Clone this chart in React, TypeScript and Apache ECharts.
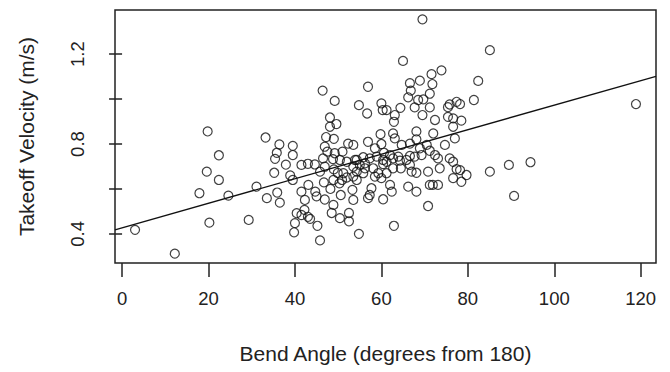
import React, { useEffect, useRef } from "react";
import * as echarts from "echarts";

// Bend angle (degrees from 180) for each observation
const bendAngle: number[] = [
  3.0, 12.2, 19.8, 22.4, 19.6, 22.4, 17.9, 24.6, 20.2, 29.3,
  31.1, 33.2, 33.5, 35.2, 35.8, 35.4, 36.4, 35.9, 36.5, 37.9,
  38.9, 39.5, 39.5, 39.5, 40.4, 40.0, 39.8, 41.5, 43.0, 44.6,
  41.5, 43.1, 44.7, 45.0, 42.3, 46.9, 42.2, 43.0, 41.5, 43.5,
  45.2, 45.8, 47.2, 49.0, 46.9, 47.5, 49.2, 51.0, 46.5, 48.8,
  50.4, 52.3, 53.5, 45.8, 46.9, 49.0, 49.9, 48.9, 50.9, 52.0,
  50.3, 46.7, 48.2, 50.6, 48.9, 48.5, 50.4, 52.5, 52.5, 53.3,
  52.0, 53.9, 48.1, 48.1, 49.6, 46.4, 49.2, 51.2, 54.8, 53.5,
  53.5, 54.3, 53.5, 54.3, 55.0, 56.2, 54.3, 55.8, 57.3, 58.9,
  60.4, 56.9, 58.5, 60.6, 62.0, 59.8, 62.7, 63.1, 64.7, 66.6,
  68.1, 68.1, 72.0, 77.0, 56.2, 58.1, 55.8, 59.3, 58.5, 60.0,
  61.2, 60.4, 62.7, 62.7, 61.2, 57.7, 57.3, 56.9, 60.4, 62.0,
  62.4, 62.9, 56.7, 54.8, 56.9, 60.0, 60.3, 61.2, 64.4, 63.1,
  62.9, 65.0, 69.5, 66.6, 68.9, 71.6, 73.9, 71.8, 66.8, 71.2,
  66.2, 68.5, 69.7, 67.7, 71.2, 75.4, 75.8, 77.4, 78.2, 69.5,
  72.4, 75.4, 76.6, 78.5, 76.6, 74.7, 70.5, 71.2, 69.3, 67.7,
  66.6, 65.8, 64.3, 68.9, 72.4, 73.1, 73.5, 75.8, 76.6, 77.4,
  79.7, 76.6, 78.5, 66.6, 67.0, 68.1, 70.8, 66.2, 68.1, 71.2,
  71.9, 73.1, 70.8, 64.5, 63.9, 81.4, 82.4, 85.1, 85.1,
  89.5, 94.5, 90.7, 118.9, 78.2, 60.0,
];

// Takeoff velocity (m/s) for each observation
const takeoffVelocity: number[] = [
  0.418, 0.312, 0.856, 0.750, 0.677, 0.640, 0.581, 0.570, 0.450, 0.462,
  0.610, 0.829, 0.559, 0.672, 0.761, 0.734, 0.798, 0.584, 0.539, 0.708,
  0.660, 0.792, 0.751, 0.640, 0.492, 0.448, 0.407, 0.707, 0.712, 0.709,
  0.588, 0.618, 0.588, 0.567, 0.551, 0.553, 0.507, 0.476, 0.484, 0.467,
  0.436, 0.371, 0.831, 0.823, 0.788, 0.766, 0.759, 0.766, 0.736, 0.733,
  0.729, 0.802, 0.796, 0.677, 0.699, 0.687, 0.671, 0.640, 0.640, 0.651,
  0.625, 0.629, 0.600, 0.573, 0.529, 0.493, 0.470, 0.493, 0.456, 0.596,
  0.721, 0.729, 0.918, 0.877, 0.889, 1.038, 0.992, 0.670, 0.400, 0.551,
  0.655, 0.640, 0.699, 0.677, 0.707, 0.714, 0.729, 0.741, 0.736, 0.744,
  0.729, 0.810, 0.781, 0.761, 0.751, 0.844, 0.847, 0.825, 0.796, 0.802,
  0.821, 0.856, 0.847, 0.825, 0.692, 0.692, 0.670, 0.670, 0.655, 0.648,
  0.721, 0.711, 0.736, 0.692, 0.670, 0.603, 0.573, 0.559, 0.554, 0.618,
  0.588, 0.436, 0.936, 0.973, 1.055, 0.981, 0.951, 0.951, 0.961, 0.929,
  0.899, 1.170, 1.355, 1.071, 1.082, 1.111, 1.128, 1.067, 1.038, 1.024,
  1.008, 0.996, 0.999, 0.963, 0.963, 0.964, 0.976, 0.988, 0.978, 0.929,
  0.907, 0.921, 0.914, 0.904, 0.877, 0.796, 0.796, 0.770, 0.751, 0.744,
  0.747, 0.729, 0.726, 0.781, 0.751, 0.736, 0.692, 0.736, 0.721, 0.688,
  0.662, 0.648, 0.632, 0.707, 0.677, 0.672, 0.677, 0.610, 0.588, 0.618,
  0.618, 0.618, 0.524, 0.692, 0.744, 0.996, 1.081, 1.218, 0.677,
  0.707, 0.719, 0.569, 0.978, 0.684, 0.800,
];

// Fitted regression line
const fitIntercept = 0.427;
const fitSlope = 0.00546;

// Tick positions / labels
const xTickValues: number[] = [0, 20, 40, 60, 80, 100, 120];
const yTickValues: number[] = [0.4, 0.6, 0.8, 1.0, 1.2];
const yLabelValues: number[] = [0.4, 0.8, 1.2];

const xTitle = "Bend Angle (degrees from 180)";
const yTitle = "Takeoff Velocity (m/s)";

function rRange(vals: number[]): [number, number] {
  const lo = Math.min(...vals);
  const hi = Math.max(...vals);
  const pad = 0.04 * (hi - lo);
  return [lo - pad, hi + pad];
}

export default function App() {
  const ref = useRef<HTMLDivElement>(null);

  useEffect(() => {
    if (!ref.current) return;
    const chart = echarts.init(ref.current, undefined, { renderer: "svg" });
    const [xMin, xMax] = rRange(bendAngle);
    const [yMin, yMax] = rRange(takeoffVelocity);
    const points = bendAngle.map((x, i) => [x, takeoffVelocity[i]]);
    const fitLine = [
      [xMin, fitIntercept + fitSlope * xMin],
      [xMax, fitIntercept + fitSlope * xMax],
    ];
    const font = "Liberation Sans, Arial, sans-serif";
    const ink = "#222";

    chart.setOption({
      animation: false,
      backgroundColor: "#fff",
      grid: {
        left: 115,
        top: 10,
        width: 541,
        height: 253,
        show: true,
        borderColor: ink,
        borderWidth: 1.5,
        backgroundColor: "transparent",
        containLabel: false,
        outerBoundsMode: "none",
      },
      xAxis: {
        type: "value",
        min: xMin,
        max: xMax,
        axisLine: { show: false },
        splitLine: { show: false },
        axisTick: {
          show: true,
          length: 14,
          customValues: xTickValues,
          lineStyle: { color: ink, width: 1.5 },
        },
        axisLabel: {
          customValues: xTickValues,
          margin: 26,
          color: ink,
          fontSize: 18.5,
          fontFamily: font,
          formatter: (v: number) => String(Math.round(v)),
        },
        name: xTitle,
        nameLocation: "middle",
        nameGap: 80,
        nameTextStyle: { color: ink, fontSize: 21, fontFamily: font },
      },
      yAxis: {
        type: "value",
        min: yMin,
        max: yMax,
        axisLine: { show: false },
        splitLine: { show: false },
        axisTick: {
          show: true,
          length: 13,
          customValues: yTickValues,
          lineStyle: { color: ink, width: 1.5 },
        },
        axisLabel: {
          customValues: yLabelValues,
          rotate: 90,
          margin: 28,
          color: ink,
          fontSize: 18.5,
          fontFamily: font,
          formatter: (v: number) => v.toFixed(1),
        },
        name: yTitle,
        nameLocation: "middle",
        nameGap: 78,
        nameTextStyle: { color: ink, fontSize: 21, fontFamily: font },
      },
      series: [
        {
          type: "scatter",
          data: points,
          symbol: "circle",
          symbolSize: 9,
          itemStyle: { color: "rgba(255,255,255,0)", borderColor: "#111", borderWidth: 1.2 },
          silent: true,
        },
        {
          type: "line",
          data: fitLine,
          showSymbol: false,
          symbol: "none",
          lineStyle: { color: "#111", width: 1.3 },
          silent: true,
        },
      ],
    });

    return () => chart.dispose();
  }, []);

  return (
    <div
      ref={ref}
      style={{ position: "fixed", left: 0, top: 0, width: 670, height: 372, background: "#fff" }}
    />
  );
}
